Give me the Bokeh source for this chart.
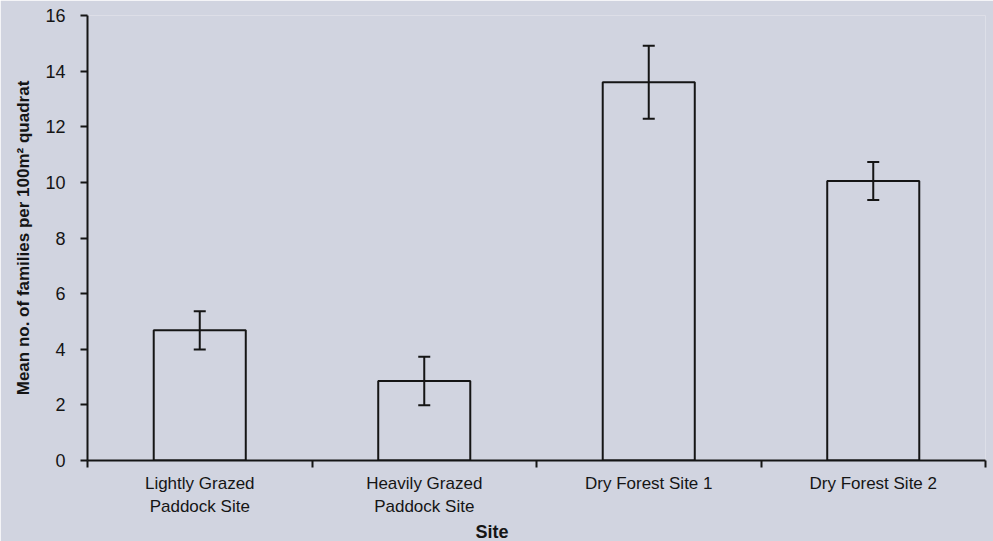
from bokeh.plotting import figure
from bokeh.models import FixedTicker, ColumnDataSource, Whisker, TeeHead, Title, Range1d
from bokeh.embed import file_html
from bokeh.resources import INLINE

sites = ["Lightly Grazed\nPaddock Site", "Heavily Grazed\nPaddock Site", "Dry Forest Site 1", "Dry Forest Site 2"]
means = [4.68, 2.86, 13.6, 10.05]
errors = [0.69, 0.87, 1.31, 0.68]
yticks = [0, 2, 4, 6, 8, 10, 12, 14, 16]

BG = "#d1d4e0"
INK = "#151515"
xpos = [i + 0.5 for i in range(len(sites))]
src = ColumnDataSource(dict(
    x=xpos, top=means,
    upper=[m + e for m, e in zip(means, errors)],
    lower=[m - e for m, e in zip(means, errors)],
))

p = figure(width=993, height=541, output_backend="svg", toolbar_location=None,
           x_range=Range1d(0, len(sites)), y_range=Range1d(0, 16),
           min_border_left=87, min_border_right=8, min_border_top=15, min_border_bottom=81)
p.background_fill_color = BG
p.border_fill_color = BG
p.outline_line_color = None
p.xgrid.visible = False
p.ygrid.visible = False

p.vbar(x="x", top="top", width=0.41, bottom=0, source=src,
       fill_alpha=0, line_color=INK, line_width=2)
p.add_layout(Whisker(source=src, base="x", upper="upper", lower="lower",
                     line_color=INK, line_width=2, level="overlay",
                     upper_head=TeeHead(size=12, line_color=INK, line_width=2),
                     lower_head=TeeHead(size=12, line_color=INK, line_width=2)))

# x axis
p.xaxis.ticker = FixedTicker(ticks=xpos, minor_ticks=list(range(len(sites) + 1)))
p.xaxis.major_label_overrides = {x: s for x, s in zip(xpos, sites)}
p.xaxis.major_tick_out = 0
p.xaxis.major_tick_in = 0
p.xaxis.minor_tick_out = 7
p.xaxis.minor_tick_in = 0
p.xaxis.minor_tick_line_width = 2
p.xaxis.minor_tick_line_color = INK
p.xaxis.axis_line_width = 2
p.xaxis.axis_line_color = INK
p.xaxis.major_label_text_font = "Liberation Sans"
p.xaxis.major_label_text_font_size = "17px"
p.xaxis.major_label_text_color = INK
p.xaxis.major_label_text_line_height = 1.25
p.xaxis.major_label_standoff = 6

# x axis title, placed left of centre as in the original
p.add_layout(Title(text="Site", align="left", offset=388, standoff=0,
                   text_font="Liberation Sans", text_font_style="bold",
                   text_font_size="18px", text_color=INK), "below")

# y axis
p.yaxis.ticker = FixedTicker(ticks=yticks)
p.yaxis.minor_tick_line_color = None
p.yaxis.major_tick_out = 7
p.yaxis.major_tick_in = 0
p.yaxis.major_tick_line_width = 2
p.yaxis.major_tick_line_color = INK
p.yaxis.axis_line_width = 2
p.yaxis.axis_line_color = INK
p.yaxis.major_label_text_font = "Liberation Sans"
p.yaxis.major_label_text_font_size = "18px"
p.yaxis.major_label_text_color = INK
p.yaxis.major_label_standoff = 15
p.yaxis.axis_label = "Mean no. of families per 100m² quadrat"
p.yaxis.axis_label_text_font = "Liberation Sans"
p.yaxis.axis_label_text_font_style = "bold"
p.yaxis.axis_label_text_font_size = "17px"
p.yaxis.axis_label_text_color = INK
p.yaxis.axis_label_standoff = 9

open("out.html", "w").write(file_html(p, INLINE))
